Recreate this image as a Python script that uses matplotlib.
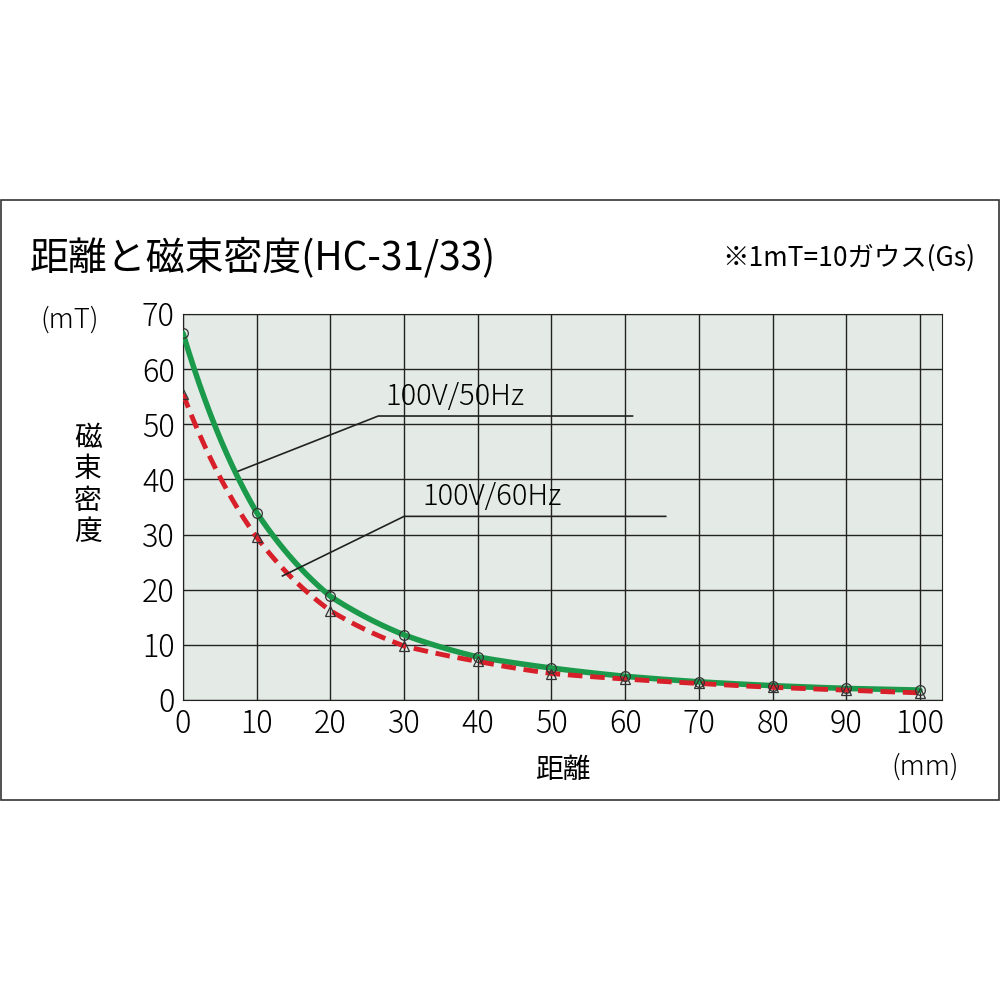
import numpy as np
import matplotlib
matplotlib.use("Agg")
import matplotlib.pyplot as plt
from matplotlib.patches import Rectangle

plt.rcParams['font.family'] = ['Noto Sans CJK JP', 'DejaVu Sans']

distance = [0, 10, 20, 30, 40, 50, 60, 70, 80, 90, 100]
hz50 = [66.5, 34, 18.8, 11.8, 7.8, 5.8, 4.3, 3.3, 2.6, 2.1, 1.8]
hz60 = [55.5, 29.5, 16.2, 9.8, 7.0, 4.8, 3.8, 3.0, 2.3, 1.8, 1.3]
xticks = [0, 10, 20, 30, 40, 50, 60, 70, 80, 90, 100]
yticks = [0, 10, 20, 30, 40, 50, 60, 70]

fig = plt.figure(figsize=(10, 10), dpi=100)
fig.patches.append(Rectangle((0.001, 0.2), 0.998, 0.6, transform=fig.transFigure,
                             fill=False, edgecolor='#333333', lw=1.2))
ax = fig.add_axes([0.183, 0.300, 0.759, 0.386])
ax.set_facecolor('#e4ebe6')
ax.set_xlim(0, 103)
ax.set_ylim(0, 70)
for v in xticks:
    ax.axvline(v, color='#222222', lw=1.0, zorder=1)
for v in yticks:
    ax.axhline(v, color='#222222', lw=1.0, zorder=1)
for s in ax.spines.values():
    s.set_color('#222222')

xs = np.linspace(0, 100, 401)
g = np.exp(np.interp(xs, distance, np.log(hz50)))
r = np.exp(np.interp(xs, distance, np.log(hz60)))
ax.plot(xs, g, color='#1a9a4a', lw=4, zorder=3, solid_capstyle='round')
ax.plot(xs, r, color='#d8202a', lw=3.5, ls=(0, (3, 1.6)), zorder=4)
ax.plot(distance, hz50, 'o', ms=7, mfc='none', mec='#333333', mew=0.9, zorder=5)
ax.plot(distance, hz60, '^', ms=7, mfc='none', mec='#333333', mew=0.9, zorder=5)

ax.set_xticks(xticks)
ax.set_yticks(yticks)
ax.tick_params(length=0, labelsize=22, pad=6)
for lbl in ax.get_xticklabels() + ax.get_yticklabels():
    lbl.set_fontweight('light')

ax.plot([7.5, 26.5, 61], [41.5, 51.5, 51.5], color='#222222', lw=1.2, zorder=6)
ax.text(27.5, 52.3, '100V/50Hz', fontsize=21, va='bottom', fontweight='light')
ax.plot([13.5, 30, 65.5], [22.5, 33.3, 33.3], color='#222222', lw=1.2, zorder=6)
ax.text(32.5, 34.1, '100V/60Hz', fontsize=21, va='bottom', fontweight='light')

fig.text(0.03, 0.742, '距離と磁束密度(HC-31/33)', fontsize=28, va='center')
fig.text(0.975, 0.742, '※1mT=10ガウス(Gs)', fontsize=19, va='center', ha='right')
fig.text(0.04, 0.680, '(mT)', fontsize=20, va='center', fontweight='light')
fig.text(0.088, 0.515, '磁\n束\n密\n度', fontsize=20, va='center', ha='center', linespacing=1.05)
fig.text(0.563, 0.23, '距離', fontsize=20, ha='center', va='center')
fig.text(0.925, 0.233, '(mm)', fontsize=20, ha='center', va='center', fontweight='light')

fig.savefig('out.png', dpi=100)
